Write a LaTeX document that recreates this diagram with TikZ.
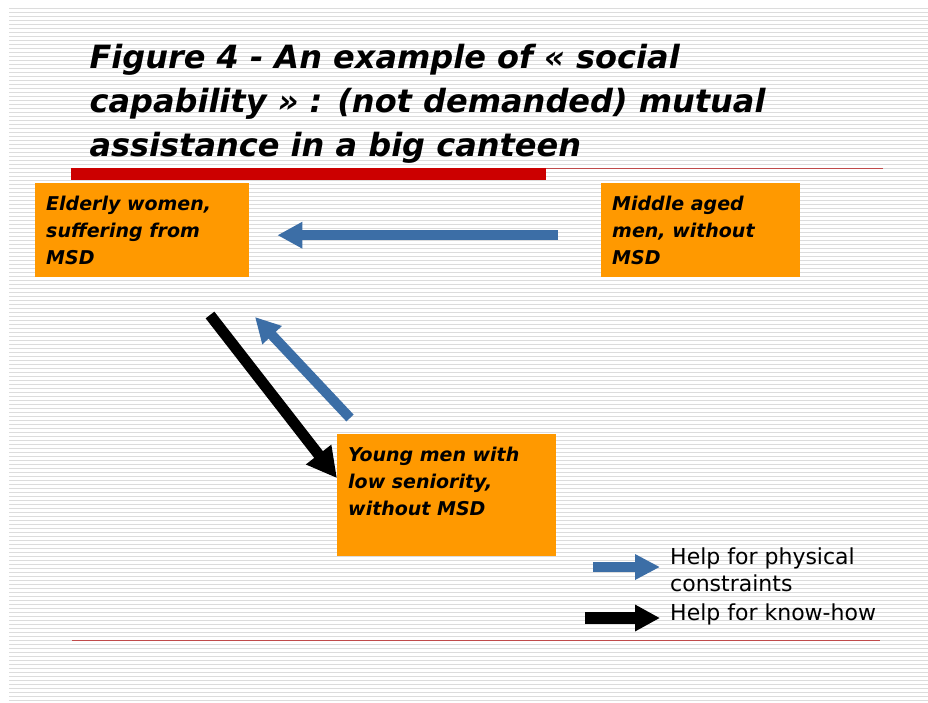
\documentclass[tikz,border=0pt]{standalone}
\usepackage{fontspec}
\setmainfont{DejaVu Sans}
\usetikzlibrary{arrows.meta}
\definecolor{boxorange}{HTML}{FF9900}
\definecolor{arrowblue}{HTML}{3C6EA6}
\definecolor{barred}{HTML}{CC0000}
\definecolor{thinred}{HTML}{C04A4A}
\definecolor{stripegray}{HTML}{DCDCDC}
\tikzset{
  stripe/.style={stripegray, line width=1pt},
  personbox/.style={fill=boxorange, inner xsep=11pt, inner ysep=0pt, anchor=north west, font=\fontsize{19}{27}\selectfont\bfseries\itshape},
  bluearrow/.style={arrowblue, line width=10pt, -{Triangle[width=25pt,length=25pt]}},
  blackarrow/.style={black, line width=11pt, -{Triangle[width=30pt,length=30pt]}},
  legendtext/.style={anchor=west, align=left, inner sep=0pt, font=\fontsize{22}{27}\selectfont},
  titletext/.style={anchor=north west, align=left, font=\fontsize{32}{44}\selectfont\bfseries\itshape}
}
\newcommand{\boxtext}[3]{\begin{minipage}[t][#2pt][t]{#1pt}\vspace{13pt}#3\end{minipage}}
\begin{document}
\begin{tikzpicture}[x=1pt,y=-1pt]
\useasboundingbox (0,0) rectangle (928,702);
\fill[white] (0,0) rectangle (928,702);
\foreach \yy in {8,12,...,700} \draw[stripe] (9,\yy) -- (928,\yy);
% title
\node[titletext] (title) at (86,41) {Figure 4 - An example of « social\\capability » : (not demanded) mutual\\assistance in a big canteen};
% rules
\draw[thinred, line width=1pt] (546,168.5) -- (883,168.5);
\fill[barred] (71,168) rectangle (546,180);
\draw[thinred, line width=1pt] (72,640) -- (880,640);
% boxes
\node[personbox] (eld) at (35,183) {\boxtext{192}{94}{Elderly women,\\suffering from\\MSD}};
\node[personbox] (mid) at (601,183) {\boxtext{177}{94}{Middle aged\\men, without\\MSD}};
\node[personbox] (young) at (337,434) {\boxtext{197}{122}{Young men with\\low seniority,\\without MSD}};
% connectors
\draw[bluearrow, shorten <=43pt, shorten >=28pt] ([yshift=-5pt]mid.west) -- ([yshift=-5pt]eld.east);
\coordinate (ktail) at (210,315);
\draw[blackarrow] (ktail) -- ([yshift=17pt]young.west);
\coordinate (ptail) at (350,418);
\coordinate (phead) at (255,317);
\draw[bluearrow] (ptail) -- (phead);
% legend
\node[legendtext] (lphys) at (670,570) {Help for physical\\constraints};
\node[legendtext] (lknow) at (670,614) {Help for know-how};
\coordinate (lbtail) at (593,567);
\coordinate (lktail) at (585,618);
\draw[bluearrow, -{Triangle[width=24pt,length=25pt]}, shorten >=10pt] (lbtail) -- (lbtail -| lphys.west);
\draw[black, line width=12pt, -{Triangle[width=25pt,length=25pt]}, shorten >=10pt] (lktail) -- (lktail -| lknow.west);
\end{tikzpicture}
\end{document}
